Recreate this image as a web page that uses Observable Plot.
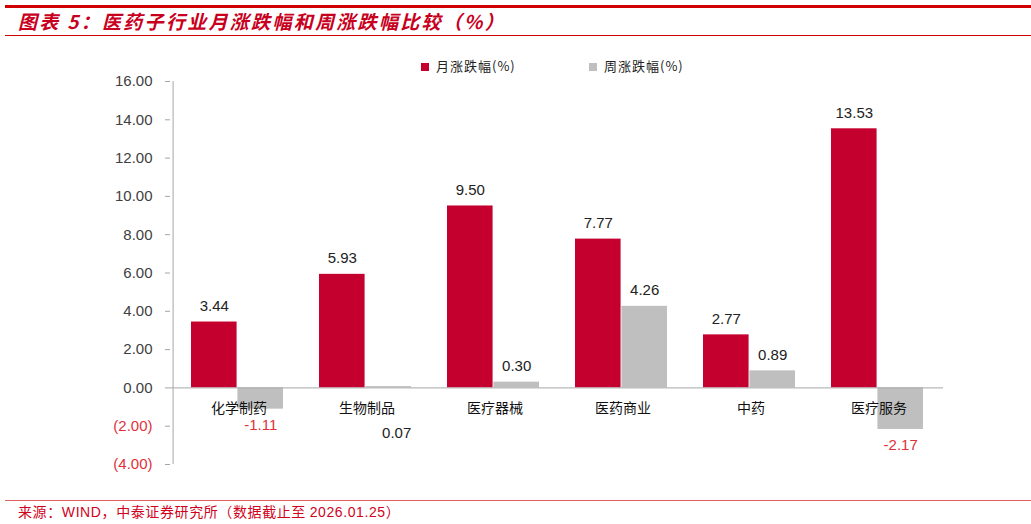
<!DOCTYPE html>
<html><head><meta charset="utf-8">
<script src="https://cdn.jsdelivr.net/npm/d3@7"></script>
<script src="https://cdn.jsdelivr.net/npm/@observablehq/plot@0.6"></script>
<style>
body{margin:0;background:#fff;}
#wrap{position:relative;width:1031px;height:524px;overflow:hidden;font-family:"Liberation Sans",Arial,sans-serif;}
.topline{position:absolute;left:5px;top:5px;width:1026px;height:2.5px;background:#d00000;}
.subline{position:absolute;left:5px;top:35px;width:1026px;height:1px;background:#d00000;}
.title{position:absolute;left:18px;top:8px;font:italic bold 19px "Noto Sans CJK SC",sans-serif;color:#c8001e;letter-spacing:2.3px;white-space:nowrap;line-height:26px;}
.srcline{position:absolute;left:5px;top:500px;width:1026px;height:1px;background:#e06060;}
.src{position:absolute;left:18px;top:502px;font:14px "Noto Sans CJK SC",sans-serif;color:#d0021b;white-space:nowrap;line-height:18px;letter-spacing:0.6px;}
.src .n{font-family:"Liberation Sans",Arial,sans-serif;}
.legend{position:absolute;top:57px;font:13px "Noto Sans CJK SC",sans-serif;color:#222;white-space:nowrap;line-height:18px;letter-spacing:1px;}
.legend i{display:inline-block;width:8px;height:8px;margin-right:7px;vertical-align:0px;}
#chart{position:absolute;left:0;top:40px;}
g[aria-label="category"] text{letter-spacing:3px;}
</style></head>
<body><div id="wrap">
<div class="topline"></div>
<div class="title">图表 5：医药子行业月涨跌幅和周涨跌幅比较（%）</div>
<div class="subline"></div>
<div class="legend" style="left:421px"><i style="background:#c4002f"></i>月涨跌幅(%)</div>
<div class="legend" style="left:589px"><i style="background:#bfbfbf"></i>周涨跌幅(%)</div>
<div id="chart"></div>
<div class="srcline"></div>
<div class="src">来源：<span class="n">WIND</span>，中泰证券研究所（数据截止至 <span class="n">2026.01.25</span>）</div>
</div>
<script>
const categories = ["化学制药", "生物制品", "医疗器械", "医药商业", "中药", "医疗服务"];
const monthly = [3.44, 5.93, 9.50, 7.77, 2.77, 13.53];
const weekly = [-1.11, 0.07, 0.30, 4.26, 0.89, -2.17];
const yTicks = [-4, -2, 0, 2, 4, 6, 8, 10, 12, 14, 16];

const RED = "#c4002f", GREY = "#bfbfbf", NEG = "#e0303a";
const mData = categories.map((c, i) => ({c, v: monthly[i]}));
const wData = categories.map((c, i) => ({c, v: weekly[i]}));
const fmt = d => d.toFixed(2);
const yFmt = d => d < 0 ? `(${Math.abs(d).toFixed(2)})` : d.toFixed(2);
const bw = (943 - 170) / categories.length;
const half = bw / 2, inner = 18, barW = half - inner;

const plot = Plot.plot({
  width: 1031, height: 455,
  marginLeft: 170, marginRight: 88, marginTop: 41, marginBottom: 31,
  x: {domain: categories, padding: 0, axis: null},
  y: {domain: [-4, 16], axis: null},
  style: {fontFamily: "Liberation Sans, Arial, sans-serif", background: "transparent"},
  marks: [
    Plot.barY(mData, {x: "c", y: "v", fill: RED, insetLeft: inner, insetRight: half}),
    Plot.barY(wData, {x: "c", y: "v", fill: GREY, insetLeft: half, insetRight: inner}),
    Plot.ruleY([0], {stroke: "#a6a6a6", strokeWidth: 1}),
    Plot.ruleX(categories, {x: "c", dx: half, y1: 0, y2: -0.2, stroke: "#a6a6a6"}),
    Plot.ruleX([categories[0]], {x: d => d, dx: -half, y1: -4, y2: 16, stroke: "#a6a6a6"}),
    Plot.axisY({ticks: yTicks.filter(d => d >= 0), tickFormat: yFmt, label: null, tickSize: 5, tickPadding: 13, stroke: "#a6a6a6", fill: "#404040", fontSize: 15}),
    Plot.axisY({ticks: yTicks.filter(d => d < 0), tickFormat: yFmt, label: null, tickSize: 5, tickPadding: 13, stroke: "#a6a6a6", fill: NEG, fontSize: 15}),
    Plot.text(mData, {x: "c", y: "v", text: d => fmt(d.v), dx: -barW / 2, dy: -16, fill: "#222", fontSize: 15}),
    Plot.text(wData.filter(d => d.v >= 0.1), {x: "c", y: "v", text: d => fmt(d.v), dx: barW / 2, dy: -16, fill: "#222", fontSize: 15}),
    Plot.text(wData.filter(d => d.v >= 0 && d.v < 0.1), {x: "c", y: "v", text: d => fmt(d.v), dx: barW / 2 + 8, dy: 47, fill: "#222", fontSize: 15}),
    Plot.text(wData.filter(d => d.v < 0), {x: "c", y: "v", text: d => fmt(d.v), dx: barW / 2, dy: 16, fill: NEG, fontSize: 15}),
    Plot.text(categories, {x: d => d, y: 0, dy: 21, dx: 1.5, text: d => d, fill: "#111", fontSize: 14, fontFamily: "Noto Sans CJK SC, sans-serif", ariaLabel: "category"})
  ]
});
document.getElementById("chart").appendChild(plot);
</script>
</body></html>
